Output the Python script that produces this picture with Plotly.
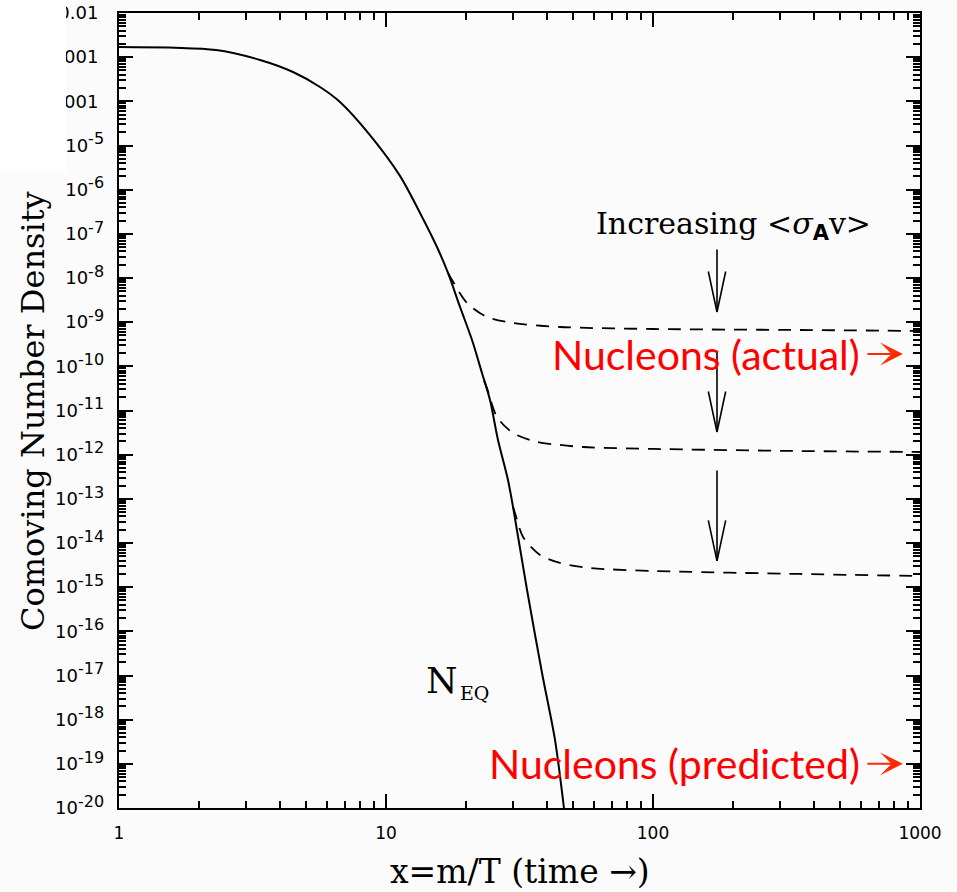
import math
import plotly.graph_objects as go

# Equilibrium comoving number density N_EQ versus x = m/T
neq_x = [1.0, 2.309, 3.375, 4.484, 5.659, 6.725, 8.71, 11.28, 13.41, 15.52, 17.07,
         18.93, 21.0, 22.88, 24.52, 26.27, 28.63, 29.91, 33.75, 38.4, 42.95, 46.4]
neq_y = [1.70e-3, 1.45e-3, 8.63e-4, 4.61e-4, 2.11e-4, 9.66e-5, 1.72e-5, 2.05e-6,
         2.97e-7, 5.04e-8, 1.30e-8, 2.21e-9, 3.95e-10, 7.08e-11, 1.73e-11, 2.15e-12,
         2.67e-13, 6.55e-14, 8.64e-16, 1.14e-17, 3.48e-19, 1.0e-20]

# Freeze-out curves, one per annihilation cross-section (increasing <sigma_A v>)
fo1_x = [17.07, 17.67, 20.11, 23.89, 29.91, 44.84, 100, 355.3, 1000]
fo1_y = [1.30e-8, 9.02e-9, 2.72e-9, 1.31e-9, 9.59e-10, 7.78e-10, 7.01e-10, 6.65e-10, 6.32e-10]

fo2_x = [23.29, 23.89, 26.04, 29.91, 36.78, 44.84, 54.67, 100, 355.3, 1000]
fo2_y = [4.66e-11, 3.24e-11, 7.14e-12, 3.10e-12, 1.94e-12, 1.66e-12, 1.49e-12,
         1.35e-12, 1.21e-12, 1.15e-12]

fo3_x = [29.91, 30.42, 32.6, 37.75, 44.84, 58.08, 100, 355.3, 1000]
fo3_y = [6.55e-14, 4.77e-14, 1.37e-14, 5.37e-15, 3.53e-15, 2.72e-15, 2.33e-15,
         1.99e-15, 1.79e-15]

# Axis ticks (trailing spaces keep the labels clear of the frame)
NB = "\u00a0"
THIN = "\u2009"
x_ticks = [1, 10, 100, 1000]
x_ticktext = ["1", "10", "100", "1000"]
y_exponents = list(range(-2, -21, -1))
y_ticktext = [v + NB * 2 + THIN for v in ["0.01", "0.001", "0.0001"]] + [
    f"10<sup><span style='font-size:16px'>{e}</span></sup>" + NB + THIN
    for e in y_exponents[3:]]

# Marked abundances on the right edge
nucleon_actual = 1.9e-10
nucleon_predicted = 1.0e-19

BG = "#fbfbfb"
TICK_FAMILY = "DejaVu Sans"
X_TICK_SIZE = 17
Y_TICK_SIZE = 18
SERIF = "DejaVu Serif"
RED_FONT = "Lato"

fig = go.Figure()
fig.add_trace(go.Scatter(x=neq_x, y=neq_y, mode="lines",
                         line=dict(color="black", width=2, shape="spline", smoothing=0.8),
                         showlegend=False, hoverinfo="skip"))
for fx, fy in [(fo1_x, fo1_y), (fo2_x, fo2_y), (fo3_x, fo3_y)]:
    fig.add_trace(go.Scatter(x=fx, y=fy, mode="lines",
                             line=dict(color="black", width=1.8, dash="13px,9px",
                                       shape="spline", smoothing=0.8),
                             showlegend=False, hoverinfo="skip"))

axis_common = dict(
    type="log", showgrid=False, zeroline=False, showline=True, linecolor="black",
    linewidth=2, mirror="allticks", ticks="inside", ticklen=14, tickwidth=2,
    tickcolor="black", automargin=False,
    minor=dict(ticks="inside", ticklen=7, tickwidth=1.5, tickcolor="black", dtick="D1"),
)

fig.update_xaxes(range=[0, 3], tickmode="array", tickvals=x_ticks, ticktext=x_ticktext,
                 ticklabelstandoff=9, **axis_common)
fig.update_yaxes(range=[-20, -2], tickmode="array",
                 tickvals=[10.0 ** e for e in y_exponents], ticktext=y_ticktext,
                 **axis_common)
fig.update_layout(
    xaxis_tickfont_family=TICK_FAMILY, xaxis_tickfont_size=X_TICK_SIZE,
    xaxis_tickfont_color="black",
    yaxis_tickfont_family=TICK_FAMILY, yaxis_tickfont_size=Y_TICK_SIZE,
    yaxis_tickfont_color="black",
)

L10 = math.log10
annotations = []

# Axis titles
annotations.append(dict(xref="paper", yref="paper", x=0.5, y=-0.080, yanchor="middle",
                        text="x=m/T (time →)", showarrow=False,
                        font=dict(family=SERIF, size=33, color="black")))
annotations.append(dict(xref="paper", yref="paper", x=-0.108, y=0.5, xanchor="center",
                        textangle=-90, text="Comoving Number Density", showarrow=False,
                        font=dict(family=SERIF, size=32, color="black")))

# Labels inside the plot
annotations.append(dict(x=2.30, y=-6.82,
                        text="Increasing &lt;<i>σ</i><sub><span style='font-family:DejaVu Sans;font-weight:bold'>A</span></sub>v&gt;",
                        showarrow=False, font=dict(family=SERIF, size=30, color="black")))
annotations.append(dict(x=1.2097, y=-17.12, text="N", showarrow=False,
                        font=dict(family=SERIF, size=36, color="black")))
annotations.append(dict(x=1.3296, y=-17.40, text="EQ", showarrow=False,
                        font=dict(family=SERIF, size=19, color="black")))

# Open "V" arrows pointing down across the freeze-out curves
arrow_x = 2.2397
for tip, shaft in [(-8.769, 64), (-11.486, 82), (-14.406, 92)]:
    for ax, ay in [(0, -shaft), (-9, -42), (9, -42)]:
        annotations.append(dict(x=arrow_x, y=tip, ax=ax, ay=ay, axref="pixel", ayref="pixel",
                                text="", showarrow=True, arrowhead=0, arrowwidth=1.6,
                                arrowcolor="black", standoff=0, startstandoff=0))

# Red nucleon labels with arrows to the right edge
for label, val in [("Nucleons (actual)", nucleon_actual),
                   ("Nucleons (predicted)", nucleon_predicted)]:
    annotations.append(dict(x=2.783, y=L10(val), xanchor="right", yanchor="middle",
                            text=label, showarrow=False,
                            font=dict(family=RED_FONT, size=41, color="#ff0000")))
    annotations.append(dict(x=2.936, y=L10(val), ax=-37, ay=0, text="", showarrow=True,
                            arrowhead=3, arrowsize=1.9, arrowwidth=2, arrowcolor="#ff2a00",
                            standoff=0, startstandoff=0))

fig.update_layout(
    width=957, height=892,
    margin=dict(l=119, r=37, t=13, b=84),
    paper_bgcolor=BG, plot_bgcolor=BG,
    font=dict(family=TICK_FAMILY, size=X_TICK_SIZE, color="black"),
    annotations=annotations,
    shapes=[dict(type="rect", xref="paper", yref="paper", x0=-0.1486, x1=-0.0662,
                 y0=0.8, y1=1.02, fillcolor="white", line=dict(width=0), layer="above")],
    showlegend=False,
)

fig.write_html("out.html")
